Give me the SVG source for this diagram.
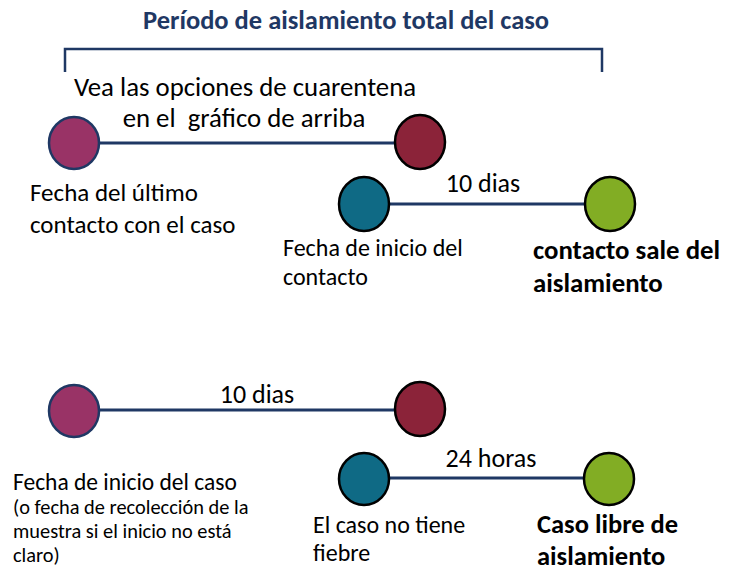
<svg xmlns="http://www.w3.org/2000/svg" width="742" height="571" viewBox="0 0 742 571">
<style>
text{font-family:Carlito,"Liberation Sans",sans-serif;fill:#000;white-space:pre}
.c{text-anchor:middle}
.b{font-weight:bold}
.ln{stroke:#1f3864;stroke-width:3;fill:none}
.n1{fill:#993366;stroke:#1f3864;stroke-width:2.5}
.n2{fill:#8b2339;stroke:#000;stroke-width:2.5}
.n3{fill:#0f6a85;stroke:#000;stroke-width:2.5}
.n4{fill:#82ad24;stroke:#000;stroke-width:2.5}
</style>
<g id="title">
<text x="346" y="29" class="c b" style="font-size:26.5px;fill:#1f3864">Período de aislamiento total del caso</text>
<path class="ln" d="M65,72 V49 H602 V72" style="stroke-width:2.5"/>
</g>
<g id="note" style="font-size:26.8px">
<text x="245" y="96" class="c">Vea las opciones de cuarentena</text>
<text x="244" y="127" class="c">en el  gráfico de arriba</text>
</g>
<g id="connectors">
<line class="ln" x1="99" y1="143" x2="396" y2="143"/>
<line class="ln" x1="389" y1="204" x2="585" y2="204"/>
<line class="ln" x1="99" y1="410" x2="396" y2="410"/>
<line class="ln" x1="389" y1="478" x2="585" y2="478"/>
</g>
<g id="a1"><ellipse class="n1" cx="74" cy="143" rx="25" ry="26"/>
<text x="30" y="201" style="font-size:25px">Fecha del último</text>
<text x="30" y="233" style="font-size:25px">contacto con el caso</text></g>
<g id="a2"><ellipse class="n2" cx="420" cy="142" rx="25" ry="27"/></g>
<g id="a3"><ellipse class="n3" cx="364" cy="204" rx="25" ry="27"/>
<text x="283" y="256" style="font-size:24px">Fecha de inicio del</text>
<text x="283" y="285" style="font-size:24px">contacto</text></g>
<g id="a4"><ellipse class="n4" cx="610" cy="204" rx="25" ry="27"/>
<text x="533" y="259" class="b" style="font-size:26.8px">contacto sale del</text>
<text x="533" y="292" class="b" style="font-size:26.8px">aislamiento</text></g>
<text x="483" y="192" class="c" style="font-size:26px">10 dias</text>
<g id="b1"><ellipse class="n1" cx="74" cy="411" rx="25" ry="26"/>
<text x="13" y="490" style="font-size:23.5px">Fecha de inicio del caso</text>
<text x="13" y="514" style="font-size:20.4px">(o fecha de recolección de la</text>
<text x="13" y="538" style="font-size:20.4px">muestra si el inicio no está</text>
<text x="13" y="562" style="font-size:20.4px">claro)</text></g>
<g id="b2"><ellipse class="n2" cx="420" cy="409" rx="25" ry="27"/></g>
<g id="b3"><ellipse class="n3" cx="364" cy="479" rx="25" ry="26"/>
<text x="313" y="533" style="font-size:24px">El caso no tiene</text>
<text x="313" y="561" style="font-size:24px">fiebre</text></g>
<g id="b4"><ellipse class="n4" cx="609" cy="479" rx="25" ry="26"/>
<text x="537" y="533" class="b" style="font-size:26.5px">Caso libre de</text>
<text x="537" y="565" class="b" style="font-size:26.5px">aislamiento</text></g>
<text x="257" y="403" class="c" style="font-size:26px">10 dias</text>
<text x="491" y="467" class="c" style="font-size:26px">24 horas</text>
</svg>
